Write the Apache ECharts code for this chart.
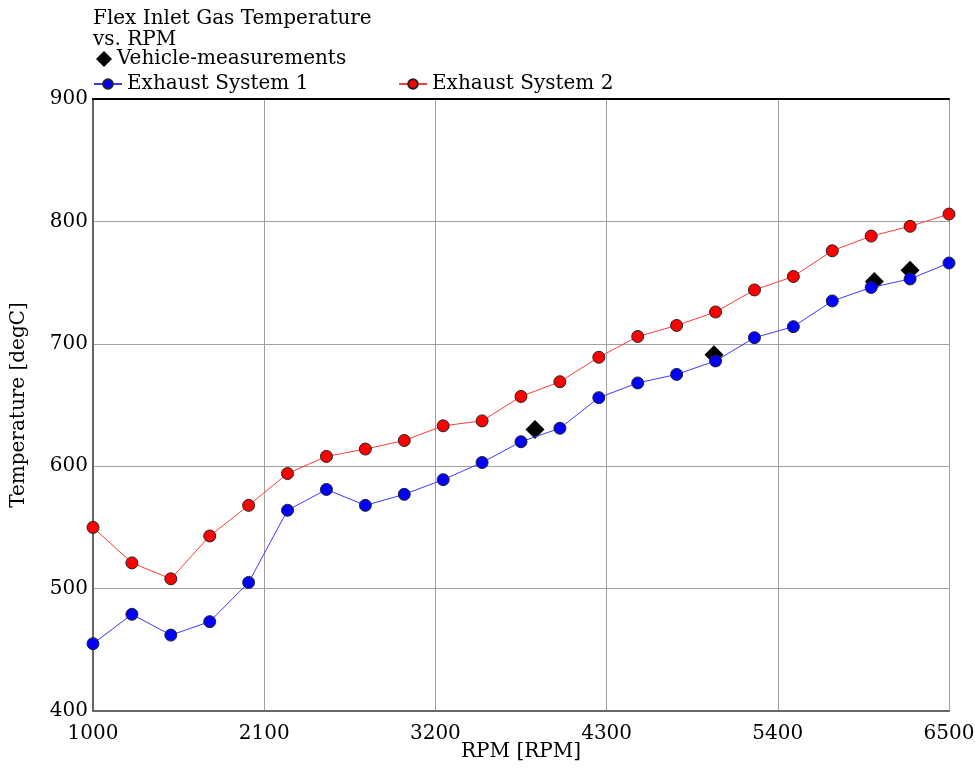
<!DOCTYPE html>
<html lang="en">
<head>
    <meta charset="UTF-8">
    <title>Flex Inlet Gas Temperature</title>
    <script src="https://cdn.jsdelivr.net/npm/echarts@6/dist/echarts.min.js"></script>
    <style>
        html, body { margin: 0; height: 100%; background: #fff; }
        #container { width: 975px; height: 768px; }
    </style>
</head>
<body>
<div id="container"></div>
<script type="text/javascript">
    // engine speed, one point every 250 rpm
    var rpm = [1000, 1250, 1500, 1750, 2000, 2250, 2500, 2750, 3000, 3250, 3500, 3750,
        4000, 4250, 4500, 4750, 5000, 5250, 5500, 5750, 6000, 6250, 6500];
    var exhaust1 = [455, 479, 462, 473, 505, 564, 581, 568, 577, 589, 603, 620,
        631, 656, 668, 675, 686, 705, 714, 735, 746, 753, 766];
    var exhaust2 = [550, 521, 508, 543, 568, 594, 608, 614, 621, 633, 637, 657,
        669, 689, 706, 715, 726, 744, 755, 776, 788, 796, 806];
    var measRpm = [3840, 4990, 6020, 6250];
    var measTemp = [630, 691, 751, 760];

    var font = 'DejaVu Serif';

    function pairs(xs, ys) {
        return xs.map(function (x, i) { return [x, ys[i]]; });
    }

    var dom = document.getElementById('container');
    var myChart = echarts.init(dom);

    var legendText = { fontFamily: font, fontSize: 20, color: '#000' };

    var option = {
        animation: false,
        textStyle: { fontFamily: font, color: '#000' },
        title: {
            text: 'Flex Inlet Gas Temperature\nvs. RPM',
            left: 93,
            top: 8,
            padding: 0,
            textStyle: { fontFamily: font, fontSize: 20, fontWeight: 'normal', color: '#000', lineHeight: 21 }
        },
        legend: [{
            data: [{ name: 'Vehicle-measurements', icon: 'diamond' }],
            left: 96, top: 49, padding: 0,
            itemWidth: 16, itemHeight: 16,
            textStyle: legendText
        }, {
            data: ['Exhaust System 1'],
            left: 93, top: 74, padding: 0,
            itemWidth: 28, itemHeight: 12,
            textStyle: legendText
        }, {
            data: ['Exhaust System 2'],
            left: 398, top: 74, padding: 0,
            itemWidth: 28, itemHeight: 12,
            textStyle: legendText
        }],
        grid: { left: 93, right: 26, top: 99, bottom: 57, outerBoundsMode: 'none' },
        xAxis: [{
            type: 'value',
            min: 1000, max: 6500, interval: 1100,
            name: 'RPM [RPM]',
            nameLocation: 'middle',
            nameGap: 31,
            nameMoveOverlap: false,
            nameTextStyle: { fontFamily: font, fontSize: 20, color: '#000' },
            axisLine: { show: true, onZero: false, lineStyle: { color: '#666', width: 2 } },
            axisTick: { show: false },
            axisLabel: {
                fontFamily: font, fontSize: 20, color: '#000', margin: 13,
                formatter: function (v) { return String(v); }
            },
            splitLine: { show: true, lineStyle: { color: '#a0a0a0', width: 1 } }
        }, {
            type: 'value',
            position: 'top',
            min: 1000, max: 6500, interval: 1100,
            axisLine: { show: true, onZero: false, lineStyle: { color: '#000', width: 2 } },
            axisTick: { show: false },
            axisLabel: { show: false },
            splitLine: { show: false }
        }],
        yAxis: {
            type: 'value',
            min: 400, max: 900, interval: 100,
            name: 'Temperature [degC]',
            nameLocation: 'middle',
            nameGap: 64,
            nameMoveOverlap: false,
            nameTextStyle: { fontFamily: font, fontSize: 20, color: '#000' },
            axisLine: { show: true, onZero: false, lineStyle: { color: '#666', width: 2 } },
            axisTick: { show: false },
            axisLabel: {
                fontFamily: font, fontSize: 20, color: '#000', margin: 5,
                formatter: function (v) { return String(v); }
            },
            splitLine: { show: true, lineStyle: { color: '#a0a0a0', width: 1 } }
        },
        series: [{
            name: 'Vehicle-measurements',
            type: 'scatter',
            symbol: 'diamond',
            symbolSize: 19,
            itemStyle: { color: '#000', opacity: 1 },
            data: pairs(measRpm, measTemp),
            z: 1
        }, {
            name: 'Exhaust System 1',
            type: 'line',
            symbol: 'circle',
            symbolSize: 12,
            itemStyle: { color: '#0000ff', borderColor: '#222', borderWidth: 1 },
            lineStyle: { color: '#3a3aff', width: 1 },
            data: pairs(rpm, exhaust1),
            z: 3
        }, {
            name: 'Exhaust System 2',
            type: 'line',
            symbol: 'circle',
            symbolSize: 12,
            itemStyle: { color: '#ff0000', borderColor: '#222', borderWidth: 1 },
            lineStyle: { color: '#ff3a3a', width: 1 },
            data: pairs(rpm, exhaust2),
            z: 3
        }]
    };

    myChart.setOption(option, true);
</script>
</body>
</html>
